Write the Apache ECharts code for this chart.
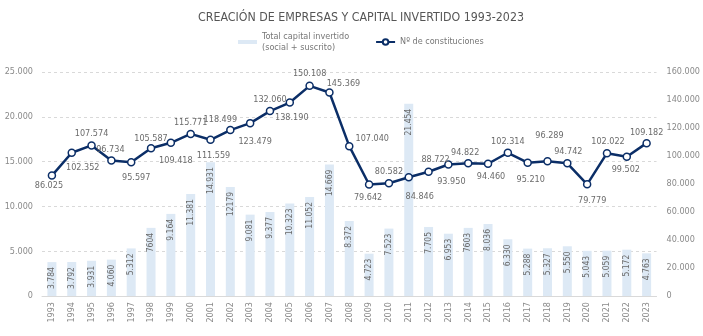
<!DOCTYPE html>
<html><head><meta charset="utf-8">
<script src="https://cdn.jsdelivr.net/npm/echarts@6/dist/echarts.min.js"></script>
<style>html,body{margin:0;padding:0;background:#fff}#c{width:703px;height:336px}</style>
</head><body><div id="c"></div>
<script>
const years = ['1993','1994','1995','1996','1997','1998','1999','2000','2001','2002','2003','2004','2005','2006','2007','2008','2009','2010','2011','2012','2013','2014','2015','2016','2017','2018','2019','2020','2021','2022','2023'];
const capital = [3784,3792,3931,4060,5312,7604,9164,11381,14931,12179,9081,9377,10323,11052,14669,8372,4723,7523,21454,7705,6953,7603,8036,6330,5288,5327,5550,5043,5059,5172,4763];
const constituciones = [86025,102352,107574,96734,95597,105587,109418,115771,111559,118499,123479,132060,138190,150108,145369,107040,79642,80582,84846,88722,93950,94822,94460,102314,95210,96289,94742,79779,102022,99502,109182];
const plainLabelYears = ['1998','2002','2014'];
const titleText = 'CREACIÓN DE EMPRESAS Y CAPITAL INVERTIDO 1993-2023';
const barName = 'Total capital invertido\n(social + suscrito)';
const lineName = 'Nº de constituciones';
// label placement (layout only)
const labelOffsets = [[-3,10],[11,15],[0,-12],[-1,-11],[5,15],[0,-10],[5,18],[0,-11],[3,16],[-10,-10],[5,19],[0,-11],[2,15],[0,-12],[14,-9],[23,-7],[-1,13],[0,-12],[11,19],[7,-12],[3,17],[-3,-11],[3,13],[0,-11],[3,17],[2,-26],[1,-12],[5,16],[1,-12],[-1,13],[0,-10]];

const FONT = '"Liberation Sans Narrow","DejaVu Sans Condensed",sans-serif';
const thousands = n => String(n).replace(/\B(?=(\d{3})+(?!\d))/g, '.');

const chart = echarts.init(document.getElementById('c'), null, {renderer:'canvas'});
chart.setOption({
  animation:false,
  textStyle:{fontFamily:FONT},
  title:{text:titleText, left:356, top:7, textAlign:'center',
    textStyle:{fontFamily:FONT, fontSize:12.3, fontWeight:'normal', color:'#555'}},
  legend:{left:233, top:20.5, itemWidth:19, itemHeight:7, itemGap:26,
    data:[{name:barName, icon:'path://M0,0M0,1.5L19,1.5L19,5.5L0,5.5ZM19,7'},{name:lineName}],
    textStyle:{fontFamily:FONT, fontSize:9, color:'#777', lineHeight:11, padding:[11,0,0,0]}},
  grid:{left:42, right:46, top:72, bottom:40},
  xAxis:{type:'category', data:years,
    axisLine:{lineStyle:{color:'#d9d9d9'}}, axisTick:{show:false},
    axisLabel:{rotate:90, margin:6, fontFamily:FONT, fontSize:9, color:'#8a8a8a'}},
  yAxis:[
    {type:'value', min:0, max:25000, interval:5000,
      axisLine:{show:false}, axisTick:{show:false},
      splitLine:{lineStyle:{color:'#d9d9d9', type:[3,3]}},
      axisLabel:{margin:9, fontFamily:FONT, fontSize:9, color:'#8a8a8a', formatter:v=>thousands(v)}},
    {type:'value', min:0, max:160000, interval:20000,
      axisLine:{show:false}, axisTick:{show:false}, splitLine:{show:false},
      axisLabel:{margin:10, fontFamily:FONT, fontSize:9, color:'#8a8a8a', formatter:v=>thousands(v)}}
  ],
  series:[
    {name:barName, type:'bar', yAxisIndex:0, data:capital, barWidth:9,
      itemStyle:{color:'#dde9f5'},
      label:{show:true, position:'insideTop', distance:5, rotate:90, align:'right', verticalAlign:'middle',
        fontFamily:FONT, fontSize:8.5, color:'#6b6b6b',
        formatter:p=> plainLabelYears.includes(p.name) ? String(p.value) : thousands(p.value)}},
    {name:lineName, type:'line', yAxisIndex:1, z:5,
      data:constituciones.map((v,i)=>({value:v, label:{offset:labelOffsets[i]}})),
      symbol:'circle', symbolSize:7,
      lineStyle:{color:'#0b2e67', width:2.5},
      itemStyle:{color:'#fff', borderColor:'#0b2e67', borderWidth:1.5},
      label:{show:true, position:'inside', fontFamily:FONT, fontSize:9, color:'#6b6b6b',
        formatter:p=>thousands(p.value)}}
  ]
});
</script></body></html>
